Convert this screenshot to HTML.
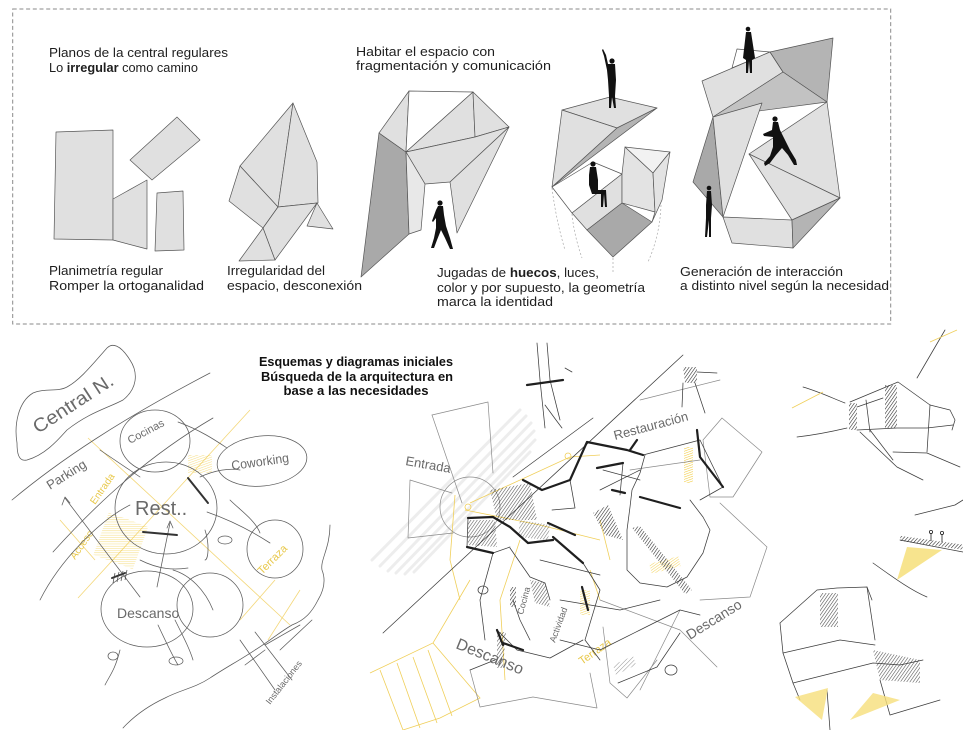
<!DOCTYPE html>
<html><head><meta charset="utf-8">
<style>
html,body{margin:0;padding:0;background:#fff;}
svg{display:block;}
.t{font-family:"Liberation Sans",sans-serif;font-size:13px;fill:#1e1e1e;}
.b{font-family:"Liberation Sans",sans-serif;font-size:13px;font-weight:bold;fill:#111;}
.h{font-family:"Liberation Sans",sans-serif;fill:#6a6a6a;}
.hy{font-family:"Liberation Sans",sans-serif;fill:#e8c84a;}
</style></head><body>
<svg width="963" height="730" viewBox="0 0 963 730" xmlns="http://www.w3.org/2000/svg">
<defs>
<pattern id="hk" width="2.6" height="2.6" patternUnits="userSpaceOnUse" patternTransform="rotate(35)"><line x1="0" y1="0" x2="0" y2="2.6" stroke="#222" stroke-width="1.1"/></pattern>
<pattern id="hg" width="3" height="3" patternUnits="userSpaceOnUse" patternTransform="rotate(45)"><line x1="0" y1="0" x2="0" y2="3" stroke="#777" stroke-width="0.8"/></pattern>
<pattern id="hy" width="2.2" height="2.2" patternUnits="userSpaceOnUse" patternTransform="rotate(70)"><line x1="0" y1="0" x2="0" y2="2.2" stroke="#f0c62a" stroke-width="1"/></pattern>
</defs>
<rect width="963" height="730" fill="#fff"/>

<!-- dashed frame -->
<rect x="12.7" y="9" width="878" height="315" fill="none" stroke="#8a8a8a" stroke-width="1" stroke-dasharray="4,2.7"/>

<!-- TOP TEXTS -->
<text class="t" x="49" y="57" textLength="179" lengthAdjust="spacingAndGlyphs">Planos de la central regulares</text>
<text class="t" x="49" y="72" textLength="149" lengthAdjust="spacingAndGlyphs">Lo <tspan font-weight="bold">irregular</tspan> como camino</text>
<text class="t" x="356" y="56" textLength="139" lengthAdjust="spacingAndGlyphs">Habitar el espacio con</text>
<text class="t" x="356" y="70" textLength="195" lengthAdjust="spacingAndGlyphs">fragmentación y comunicación</text>

<text class="t" x="49" y="275" textLength="114" lengthAdjust="spacingAndGlyphs">Planimetría regular</text>
<text class="t" x="49" y="290" textLength="155" lengthAdjust="spacingAndGlyphs">Romper la ortoganalidad</text>
<text class="t" x="227" y="275" textLength="98" lengthAdjust="spacingAndGlyphs">Irregularidad del</text>
<text class="t" x="227" y="290" textLength="135" lengthAdjust="spacingAndGlyphs">espacio, desconexión</text>
<text class="t" x="437" y="277" textLength="162" lengthAdjust="spacingAndGlyphs">Jugadas de <tspan font-weight="bold">huecos</tspan>, luces,</text>
<text class="t" x="437" y="292" textLength="208" lengthAdjust="spacingAndGlyphs">color y por supuesto, la geometría</text>
<text class="t" x="437" y="306" textLength="116" lengthAdjust="spacingAndGlyphs">marca la identidad</text>
<text class="t" x="680" y="276" textLength="163" lengthAdjust="spacingAndGlyphs">Generación de interacción</text>
<text class="t" x="680" y="290" textLength="209" lengthAdjust="spacingAndGlyphs">a distinto nivel según la necesidad</text>

<!-- SHAPE 1 -->
<g stroke="#555" stroke-width="0.7" fill="#e0e0e0" stroke-linejoin="round">
<polygon points="56,132 113,130 113,240 54,239"/>
<polygon points="113,199 147,180 147,249 113,240"/>
<polygon points="130,160 177,117 200,140 152,180"/>
<polygon points="157,193 183,191 184,250 155,251"/>
</g>

<!-- SHAPE 2 -->
<g stroke="#555" stroke-width="0.7" fill="#e0e0e0" stroke-linejoin="round">
<polygon points="293,103 240,166 278,207"/>
<polygon points="293,103 317,162 318,203 278,207"/>
<polygon points="240,166 229,201 263,228 278,207"/>
<polygon points="278,207 317,203 275,260 263,228"/>
<polygon points="263,228 275,260 239,261"/>
<polygon points="317,203 333,229 307,226"/>
</g>

<!-- SHAPE 3 (arch) -->
<g stroke="#555" stroke-width="0.7" stroke-linejoin="round">
<polygon points="379,133 406,152 409,234 361,277" fill="#a9a9a9"/>
<polygon points="379,133 409,91 406,152" fill="#e0e0e0"/>
<polygon points="409,91 473,92 406,152" fill="#fff"/>
<polygon points="406,152 473,92 475,137" fill="#e0e0e0"/>
<polygon points="473,92 509,127 475,137" fill="#e0e0e0"/>
<polygon points="406,152 475,137 509,127 450,182 425,184" fill="#e0e0e0"/>
<polygon points="406,152 425,184 421,230 409,234" fill="#e8e8e8"/>
<polygon points="509,127 457,233 450,182" fill="#e0e0e0"/>
</g>
<g fill="#111">
<circle cx="440" cy="203" r="2.6"/>
<polygon points="438,206 443,206 444,215 446,226 450,238 453,249 450,249 445,238 441,230 437,240 434,248 431,248 434,238 436,228 436,218 433,222 432,221 436,210"/>
</g>

<!-- SHAPE 4 -->
<g stroke="#555" stroke-width="0.7" stroke-linejoin="round">
<polygon points="562,110 610,97 657,108 617,128" fill="#e0e0e0"/>
<polygon points="562,110 617,128 552,187" fill="#e0e0e0"/>
<polygon points="617,128 657,108 552,187" fill="#b4b4b4"/>
<polygon points="552,187 593,162 622,174 572,213" fill="#fff"/>
<polygon points="572,213 622,174 622,203 587,230" fill="#e0e0e0"/>
<polygon points="587,230 622,203 652,222 613,257" fill="#a9a9a9"/>
<polygon points="625,147 653,173 655,212 622,203 622,174" fill="#e3e3e3"/>
<polygon points="625,147 670,152 653,173" fill="#f2f2f2"/>
<polygon points="653,173 670,152 662,200 652,222 655,212" fill="#e3e3e3"/>
</g>
<g stroke="#aaa" stroke-width="0.7" stroke-dasharray="2,2" fill="none">
<path d="M552,188 Q556,220 565,250"/>
<path d="M572,214 Q574,235 582,258"/>
<path d="M613,258 L613,272"/>
<path d="M661,205 Q660,235 648,262"/>
</g>
<g fill="#111">
<circle cx="612" cy="61" r="2.6"/>
<polygon points="609,64 615,64 616,80 615,96 616,108 614,108 612,97 611,108 609,108 609,96 608,80 607,70 604,56 602,50 603,49 606,55 608,64"/>
<circle cx="593" cy="164" r="2.6"/>
<polygon points="590,167 596,167 598,180 598,190 606,190 607,207 605,207 604,194 603,207 601,207 601,194 592,194 589,185 589,175"/>
</g>

<!-- SHAPE 5 -->
<g stroke="#555" stroke-width="0.7" stroke-linejoin="round">
<polygon points="737,49 770,52 732,68" fill="#fff"/>
<polygon points="702,81 770,52 783,72 713,117" fill="#e0e0e0"/>
<polygon points="770,52 833,38 827,102 783,72" fill="#b4b4b4"/>
<polygon points="783,72 827,102 713,117" fill="#c2c2c2"/>
<polygon points="713,117 693,182 723,217" fill="#a9a9a9"/>
<polygon points="713,117 762,103 723,217" fill="#e0e0e0"/>
<polygon points="827,102 749,154 840,198" fill="#e0e0e0"/>
<polygon points="749,154 840,198 792,220" fill="#e0e0e0"/>
<polygon points="723,217 792,220 793,248 732,243" fill="#e0e0e0"/>
<polygon points="792,220 840,198 793,248" fill="#b4b4b4"/>
</g>
<g fill="#111">
<circle cx="748" cy="29" r="2.3"/>
<polygon points="746,32 751,32 755,58 752,60 752,73 750,73 749,61 748,73 746,73 746,60 743,58"/>
<circle cx="775" cy="119" r="2.6"/>
<polygon points="773,122 778,122 780,130 784,138 790,150 796,160 797,165 794,165 788,155 782,148 776,155 770,163 765,166 764,163 770,156 773,147 773,137 764,136 763,134 772,130"/>
<circle cx="709" cy="188" r="2.3"/>
<polygon points="707,191 711,191 712,205 711,218 711,237 709,237 709,220 707,237 705,237 706,218 706,205"/>
</g>

<!-- TITLE -->
<text class="b" x="356" y="366" text-anchor="middle" textLength="194" lengthAdjust="spacingAndGlyphs">Esquemas y diagramas iniciales</text>
<text class="b" x="357" y="381" text-anchor="middle" textLength="192" lengthAdjust="spacingAndGlyphs">Búsqueda de la arquitectura en</text>
<text class="b" x="356" y="395" text-anchor="middle" textLength="145" lengthAdjust="spacingAndGlyphs">base a las necesidades</text>

<!-- ================= LEFT SKETCH ================= -->
<g fill="none" stroke="#f2d36b" stroke-width="0.8" opacity="0.9">
<line x1="88" y1="438" x2="290" y2="625"/>
<line x1="78" y1="598" x2="250" y2="410"/>
<line x1="95" y1="560" x2="60" y2="520"/>
<line x1="240" y1="620" x2="275" y2="580"/>
<line x1="300" y1="590" x2="268" y2="640"/>
</g>
<rect x="100" y="518" width="42" height="45" fill="url(#hy)" opacity="0.6" transform="rotate(20 120 540)"/>
<rect x="188" y="455" width="24" height="18" fill="url(#hy)" opacity="0.6"/>
<text class="hy" x="75" y="560" font-size="10" transform="rotate(-55 75 560)">Acceso</text>
<text class="hy" x="95" y="505" font-size="10" transform="rotate(-55 95 505)">Entrada</text>
<text class="hy" x="262" y="575" font-size="11" transform="rotate(-45 262 575)">Terraza</text>

<g fill="none" stroke="#5c5c5c" stroke-width="0.75" stroke-linecap="round" stroke-linejoin="round">
<path d="M17,443 C14,425 18,402 33,393 C45,388 58,392 67,387 C80,380 92,365 107,348 C112,343 120,344 130,360 C138,372 138,388 123,400 C108,408 90,412 67,430 C58,440 45,455 27,460 C18,462 17,452 17,443 Z"/>
<path d="M12,500 C60,460 120,420 210,373"/>
<path d="M53,552 C100,500 150,455 213,418"/>
<path d="M40,600 C60,560 100,520 130,505"/>
<ellipse cx="155" cy="441" rx="35" ry="31"/>
<ellipse cx="262" cy="461" rx="45" ry="25" transform="rotate(-6 262 461)"/>
<ellipse cx="166" cy="508" rx="51" ry="46"/>
<ellipse cx="275" cy="549" rx="28" ry="29"/>
<ellipse cx="147" cy="609" rx="46" ry="38"/>
<ellipse cx="210" cy="605" rx="33" ry="32"/>
<path d="M65,498 L140,597"/><path d="M62,505 L65,497 L70,503"/>
<path d="M100,450 L140,477"/>
<path d="M170,523 L157,587"/><path d="M167,528 L170,521 L173,528"/>
<path d="M207,512 C230,520 250,530 270,543"/>
<path d="M178,422 C200,430 215,440 227,448"/>
<path d="M173,570 C190,575 205,590 213,610"/>
<path d="M200,477 C215,470 230,468 240,470"/>
<path d="M140,560 C160,570 175,570 188,568"/>
<path d="M230,500 C240,510 255,520 260,533"/>
<path d="M205,530 C210,545 208,560 205,560"/>
<path d="M120,650 C115,670 110,675 105,685"/>
<path d="M158,625 C165,640 172,655 178,665"/>
<path d="M175,620 C185,640 190,650 193,660"/>
<path d="M123,728 C135,715 150,705 165,698 C180,690 195,688 210,678 C225,668 240,660 255,650 C268,642 280,632 292,625 C305,620 312,612 318,600 C324,590 326,580 322,570 C320,560 330,548 330,525"/>
<path d="M240,640 L275,690"/><path d="M255,632 L292,680"/>
<path d="M265,645 L300,625"/><path d="M280,650 L312,620"/>
<path d="M245,665 L265,650"/>
<ellipse cx="225" cy="540" rx="7" ry="4"/>
<ellipse cx="176" cy="661" rx="7" ry="4"/>
<ellipse cx="113" cy="656" rx="5" ry="4"/>
</g>
<g stroke="#333" stroke-width="2" stroke-linecap="round">
<line x1="143" y1="532" x2="177" y2="535"/>
<line x1="188" y1="478" x2="208" y2="503"/>
<line x1="112" y1="578" x2="125" y2="573"/>
</g>
<g fill="none" stroke="#444" stroke-width="0.7">
<path d="M113,583 l2,-10 M117,582 l2,-10 M121,581 l2,-10 M125,580 l2,-10"/>
</g>
<text class="h" x="38" y="434" font-size="19" textLength="92" lengthAdjust="spacingAndGlyphs" transform="rotate(-33 38 434)">Central N.</text>
<text class="h" x="50" y="490" font-size="13" transform="rotate(-32 50 490)">Parking</text>
<text class="h" x="130" y="444" font-size="11" transform="rotate(-28 130 444)">Cocinas</text>
<text class="h" x="232" y="470" font-size="13" textLength="58" lengthAdjust="spacingAndGlyphs" transform="rotate(-8 232 470)">Coworking</text>
<text class="h" x="135" y="515" font-size="20">Rest..</text>
<text class="h" x="117" y="618" font-size="14">Descanso</text>
<text class="h" x="270" y="705" font-size="9" transform="rotate(-52 270 705)">Instalaciones</text>

<!-- ================= MIDDLE SKETCH ================= -->
<g stroke="#dcdcdc" stroke-width="3" opacity="0.5" stroke-linecap="round">
<line x1="372" y1="560" x2="520" y2="410"/>
<line x1="380" y1="566" x2="526" y2="416"/>
<line x1="388" y1="571" x2="531" y2="423"/>
<line x1="396" y1="573" x2="534" y2="431"/>
<line x1="405" y1="574" x2="535" y2="440"/>
<line x1="414" y1="572" x2="530" y2="452"/>
</g>
<g fill="none" stroke="#f0cf5a" stroke-width="0.8">
<path d="M370,673 L433,643 L470,580"/>
<path d="M433,643 L480,698 L440,718 L403,730"/>
<path d="M380,670 L403,730 M397,663 L420,728 M413,657 L437,723 M428,650 L452,716"/>
<path d="M470,503 L570,457 L600,455"/>
<path d="M465,510 L540,525 L600,540"/>
<path d="M455,495 L450,560 L460,600"/>
<path d="M520,540 L500,600 L505,680"/>
<path d="M600,520 L610,560"/>
<path d="M590,570 L600,600"/>
<circle cx="468" cy="507" r="3"/>
<circle cx="568" cy="456" r="3"/>
</g>
<rect x="684" y="447" width="9" height="36" fill="url(#hy)"/>
<rect x="650" y="560" width="30" height="10" fill="url(#hy)" opacity="0.8" transform="rotate(-15 665 565)"/>
<rect x="580" y="590" width="10" height="25" fill="url(#hy)" opacity="0.8"/>
<text class="hy" x="582" y="665" font-size="11" transform="rotate(-35 582 665)">Terraza</text>

<g fill="none" stroke="#8a8a8a" stroke-width="0.7" stroke-linecap="round" stroke-linejoin="round">
<circle cx="470" cy="507" r="30"/>
<path d="M432,415 L488,402 L493,473"/>
<path d="M432,415 L462,503"/>
<path d="M410,480 L452,493 M410,480 L408,538 L453,533"/>
<path d="M470,670 L480,707 L533,697 L597,708 L590,673"/>
<path d="M603,627 L610,683 L627,698 L657,660"/>
<path d="M722,418 L762,452 L733,497 L710,497 L703,440 L722,418"/>
<path d="M720,503 L767,547 L750,597 L700,600"/>
<path d="M600,600 L680,630 L717,667"/>
<path d="M630,470 L700,460"/>
<path d="M640,400 L720,380"/>
<path d="M640,690 L680,610"/>
</g>
<g fill="none" stroke="#3c3c3c" stroke-width="0.75" stroke-linecap="round" stroke-linejoin="round">
<line x1="383" y1="633" x2="683" y2="355"/>
<line x1="513" y1="477" x2="593" y2="418"/>
<path d="M537,343 L540,380 L545,428 M547,343 L550,380 L560,420 M565,368 L572,372 M545,405 L556,420 L562,428"/>
<path d="M683,383 L682,407 M695,383 L705,413 M697,372 L717,373"/>
<path d="M645,455 L640,473 L632,490 L630,507 L627,530 L627,570 L640,583 L667,587 L687,577 L703,553 L710,530 L703,517 L690,500"/>
<path d="M570,480 L575,508 L552,510"/>
<path d="M510,548 L530,577 L545,583 L550,600"/>
<path d="M497,630 L517,650 L550,658 L583,640"/>
<path d="M493,553 L480,600 L485,640"/>
<path d="M468,518 L467,547 L493,553 L510,547"/>
<path d="M583,563 L600,590 L585,640 L600,660"/>
<path d="M600,490 L640,470"/>
<path d="M620,495 L623,463"/>
<path d="M643,455 L700,440 L723,487 L700,500"/>
<path d="M560,600 L620,610 L660,600"/>
<path d="M540,560 L600,575"/>
<path d="M513,600 L520,620 L530,640"/>
<path d="M603,470 L640,480"/>
<path d="M560,640 L600,650 L640,630 L680,610 L700,615"/>
<path d="M618,683 L657,667 L680,633"/>
<path d="M470,670 L495,660"/>
<ellipse cx="483" cy="590" rx="5" ry="4"/>
<ellipse cx="671" cy="670" rx="6" ry="5"/>
</g>
<g fill="none" stroke="#1f1f1f" stroke-width="2.2" stroke-linecap="round" stroke-linejoin="round">
<path d="M523,480 L542,490 L570,480 L587,442 L627,450 L643,455"/>
<path d="M468,518 L493,517 L510,527 L528,543 L553,540"/>
<path d="M467,547 L493,553"/>
<path d="M553,537 L583,563"/>
<path d="M548,523 L575,535"/>
<path d="M640,497 L680,508"/>
<path d="M597,468 L623,463"/>
<path d="M612,490 L625,493"/>
<path d="M582,587 L588,610"/>
<path d="M697,430 L700,457 L723,487"/>
<path d="M527,385 L563,380"/>
<path d="M503,643 L523,650"/>
<path d="M497,630 L503,645"/>
<path d="M630,450 L637,440"/>
</g>
<g stroke="none">
<polygon points="490,490 530,483 537,520 497,520" fill="url(#hk)" opacity="0.8"/>
<polygon points="468,520 495,520 497,547 468,545" fill="url(#hk)" opacity="0.75"/>
<polygon points="593,513 608,505 623,540 605,535" fill="url(#hk)"/>
<polygon points="632,528 640,526 692,590 685,594" fill="url(#hk)"/>
<polygon points="683,367 697,367 697,383 685,383" fill="url(#hk)"/>
<polygon points="530,580 545,583 550,607 535,603" fill="url(#hk)" opacity="0.8"/>
<polygon points="497,632 506,632 503,668 497,668" fill="url(#hk)" opacity="0.8"/>
<polygon points="510,587 516,587 516,607 510,607" fill="url(#hk)"/>
<polygon points="613,665 633,656 636,665 616,675" fill="url(#hg)"/>
<polygon points="520,520 550,525 548,540 518,537" fill="url(#hk)" opacity="0.6"/>
</g>
<text class="h" x="405" y="465" font-size="13" transform="rotate(10 405 465)">Entrada</text>
<text class="h" x="615" y="440" font-size="13" transform="rotate(-15 615 440)">Restauración</text>
<text class="h" x="455" y="648" font-size="16" transform="rotate(22 455 648)">Descanso</text>
<text class="h" x="690" y="640" font-size="14" transform="rotate(-32 690 640)">Descanso</text>
<text class="h" x="523" y="615" font-size="9" transform="rotate(-75 523 615)">Cocina</text>
<text class="h" x="555" y="643" font-size="9" transform="rotate(-70 555 643)">Actividad</text>

<!-- ================= RIGHT SKETCHES ================= -->
<g fill="none" stroke="#3c3c3c" stroke-width="0.75" stroke-linecap="round" stroke-linejoin="round">
<path d="M917,378 L945,330"/>
<path d="M850,402 L898,382 L930,405"/>
<path d="M857,407 L883,398"/>
<path d="M857,430 L897,428 L927,428 L953,425"/>
<path d="M930,405 L950,410 L955,420 L952,430"/>
<path d="M930,405 L927,452"/>
<path d="M797,437 C815,435 830,432 847,428"/>
<path d="M803,387 C820,392 832,398 845,403"/>
<path d="M860,432 L897,467 L923,480"/>
<path d="M870,430 L893,460"/>
<path d="M893,452 L927,453 L960,467"/>
<path d="M866,400 L870,432"/>
<path d="M915,515 L955,505 L963,500"/>
<path d="M900,540 L963,552"/>
<path d="M873,563 C890,575 910,590 927,597"/>
<path d="M780,623 L817,590 L837,588 L867,587 L872,600"/>
<path d="M783,653 L840,640 L875,645"/>
<path d="M793,683 L873,663 L900,665 L923,660"/>
<path d="M780,623 L783,653 L793,683 L800,700"/>
<path d="M867,587 L875,640"/>
<path d="M880,680 L890,715 L940,700"/>
<path d="M827,690 L830,730"/>
</g>
<g stroke="none">
<rect x="885" y="385" width="12" height="43" fill="url(#hk)"/>
<rect x="849" y="403" width="8" height="27" fill="url(#hk)"/>
<rect x="820" y="593" width="18" height="34" fill="url(#hk)" opacity="0.85"/>
<polygon points="873,650 920,660 920,683 880,680" fill="url(#hk)" opacity="0.8"/>
<rect x="900" y="540" width="63" height="5" fill="url(#hk)" transform="rotate(8 930 542)"/>
<polygon points="907,547 942,550 897,580" fill="#f6df7a" opacity="0.85"/>
<polygon points="795,697 828,688 822,720" fill="#f6df7a" opacity="0.8"/>
<polygon points="850,720 873,693 900,700" fill="#f6df7a" opacity="0.8"/>
</g>
<g fill="none" stroke="#f0cf5a" stroke-width="0.8">
<path d="M792,408 L823,392"/>
<path d="M930,342 L957,330"/>
</g>
<g stroke="#222" stroke-width="0.8" fill="none">
<path d="M931,541 L931,533 M942,542 L942,534"/>
<circle cx="931" cy="532" r="1.6"/><circle cx="942" cy="533" r="1.6"/>
</g>
</svg>
</body></html>
